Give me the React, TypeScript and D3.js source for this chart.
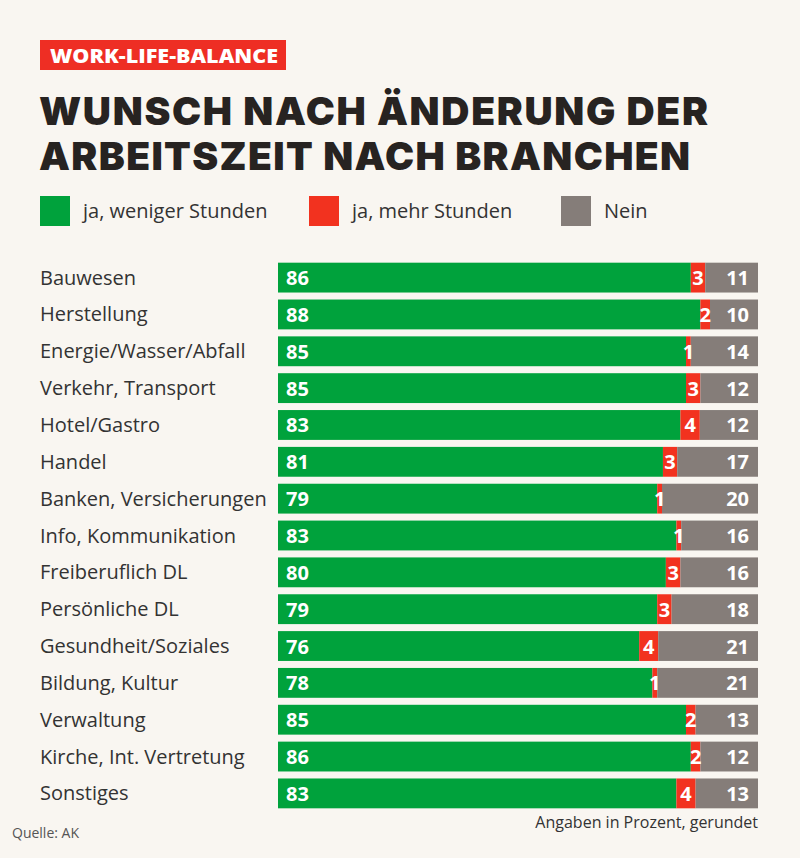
import React from "react";
import * as d3 from "d3";

const categories = [
  "Bauwesen", "Herstellung", "Energie/Wasser/Abfall", "Verkehr, Transport", "Hotel/Gastro",
  "Handel", "Banken, Versicherungen", "Info, Kommunikation", "Freiberuflich DL", "Persönliche DL",
  "Gesundheit/Soziales", "Bildung, Kultur", "Verwaltung", "Kirche, Int. Vertretung", "Sonstiges",
];
const weniger = [86, 88, 85, 85, 83, 81, 79, 83, 80, 79, 76, 78, 85, 86, 83];
const mehr = [3, 2, 1, 3, 4, 3, 1, 1, 3, 3, 4, 1, 2, 2, 4];
const nein = [11, 10, 14, 12, 12, 17, 20, 16, 16, 18, 21, 21, 13, 12, 13];
const seriesNames = ["ja, weniger Stunden", "ja, mehr Stunden", "Nein"];
const colors = ["#00A23C", "#F2321F", "#857D79"];

const W = 800, H = 858;
const bg = "#F9F6F1";
const labelFont = "'Open Sans', sans-serif";
const numFont = "'Open Sans', sans-serif";

export default function App() {
  const x = d3.scaleLinear().domain([0, 1]).range([278, 758]);
  const y = d3.scaleBand().domain(categories).range([259, 812]).paddingInner(0.19).paddingOuter(0.1);
  const rows = categories.map((c, i) => {
    const vals = [weniger[i], mehr[i], nein[i]];
    const tot = d3.sum(vals);
    let acc = 0;
    const segs = vals.map((v, k) => {
      const s = { k, v, x0: acc / tot, x1: (acc + v) / tot };
      acc += v;
      return s;
    });
    return { c, segs };
  });
  const legendX = [40, 309, 561];
  return (
    <svg width={W} height={H} style={{ display: "block", position: "absolute", left: 0, top: 0 }}>
      <rect width={W} height={H} fill={bg} />
      <rect x={40} y={40} width={246} height={30} fill="#EE2E24" />
      <text x={50} y={62.5} fill="#fff" fontFamily={labelFont} fontWeight={800} fontSize={20} textLength={228} lengthAdjust="spacingAndGlyphs">WORK-LIFE-BALANCE</text>
      <text x={39} y={125} fill="#272321" fontFamily="Inter, sans-serif" fontWeight={900} fontSize={39} textLength={669} lengthAdjust="spacing">WUNSCH NACH ÄNDERUNG DER</text>
      <text x={39} y={170} fill="#272321" fontFamily="Inter, sans-serif" fontWeight={900} fontSize={39} textLength={651} lengthAdjust="spacing">ARBEITSZEIT NACH BRANCHEN</text>
      {seriesNames.map((s, k) => (
        <g key={s}>
          <rect x={legendX[k]} y={196} width={30} height={30} fill={colors[k]} />
          <text x={legendX[k] + 43} y={218} fill="#333" fontFamily={labelFont} fontSize={20}>{s}</text>
        </g>
      ))}
      {rows.map((r) => {
        const by = y(r.c)!;
        const bh = y.bandwidth();
        const cy = by + bh / 2;
        return (
          <g key={r.c}>
            <text x={40} y={cy + 7} fill="#333" fontFamily={labelFont} fontSize={20}>{r.c}</text>
            {r.segs.map((s) => (
              <rect key={s.k} x={x(s.x0)} y={by} width={x(s.x1) - x(s.x0)} height={bh} fill={colors[s.k]} />
            ))}
            <text x={x(0) + 8} y={cy + 7.5} fill="#fff" fontFamily={numFont} fontWeight={700} fontSize={20}>{r.segs[0].v}</text>
            <text x={(x(r.segs[1].x0) + x(r.segs[1].x1)) / 2} y={cy + 7.5} textAnchor="middle" fill="#fff" fontFamily={numFont} fontWeight={700} fontSize={20}>{r.segs[1].v}</text>
            <text x={x(1) - 9} y={cy + 7.5} textAnchor="end" fill="#fff" fontFamily={numFont} fontWeight={700} fontSize={20}>{r.segs[2].v}</text>
          </g>
        );
      })}
      <text x={758} y={828} textAnchor="end" fill="#333" fontFamily={labelFont} fontSize={16}>Angaben in Prozent, gerundet</text>
      <text x={12} y={838} fill="#555" fontFamily={labelFont} fontSize={14}>Quelle: AK</text>
    </svg>
  );
}
